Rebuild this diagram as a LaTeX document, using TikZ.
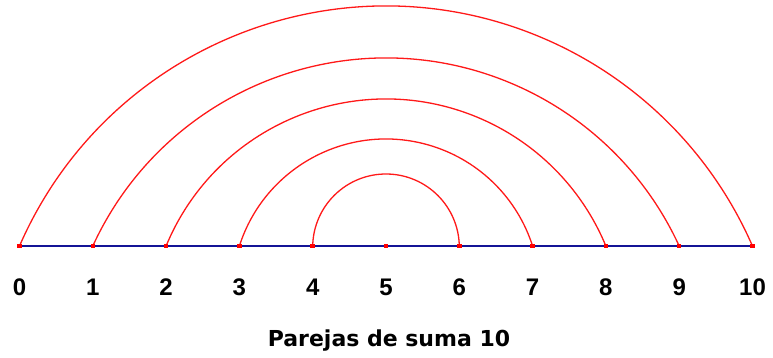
\documentclass[tikz,border=0pt]{standalone}
\usepackage{fontspec}
\setmainfont{DejaVu Sans}
\newfontfamily\digitfont{Liberation Sans}
\usetikzlibrary{positioning}
\definecolor{arcred}{RGB}{255,25,25}
\definecolor{axisblue}{RGB}{20,20,150}

\begin{document}
\begin{tikzpicture}[
  x=10pt, y=10pt,
  dot/.style={fill=red, inner sep=0pt, minimum size=4.5pt},
  num/.style={font=\digitfont\fontsize{24}{26}\selectfont\bfseries, text=black, inner sep=0pt},
  arcline/.style={draw=arcred, line width=1.3pt},
  axis/.style={draw=axisblue, line width=1.8pt}
]
\useasboundingbox (-38.6,-11.2) rectangle (38.7,24.6);
% points of the number line
\foreach \i in {0,...,10}
  \coordinate (p\i) at ({7.33*(\i-5)},0);
\draw[axis] (p0) -- (p10);
% arcs joining the pairs
\foreach \k/\h in {1/7.2,2/10.7,3/14.7,4/18.8,5/24.0}{
  \pgfmathsetmacro\a{7.33*\k}
  \pgfmathsetmacro\R{(\a*\a+\h*\h)/(2*\h)}
  \pgfmathsetmacro\t{atan((\R-\h)/\a)}
  \pgfmathtruncatemacro\j{5-\k}
  \draw[arcline] (p\j) arc[start angle=180-\t, end angle=\t, radius=\R];
}
\foreach \i in {0,...,10}{
  \node[dot] (d\i) at (p\i) {};
  \node[num] (n\i) at ({7.33*(\i-5)},-4.1) {\i};
}
\node[font=\fontsize{22}{24}\selectfont\bfseries, inner sep=0pt] (title) at (0.3,-9.5) {Parejas de suma 10};
\end{tikzpicture}
\end{document}
